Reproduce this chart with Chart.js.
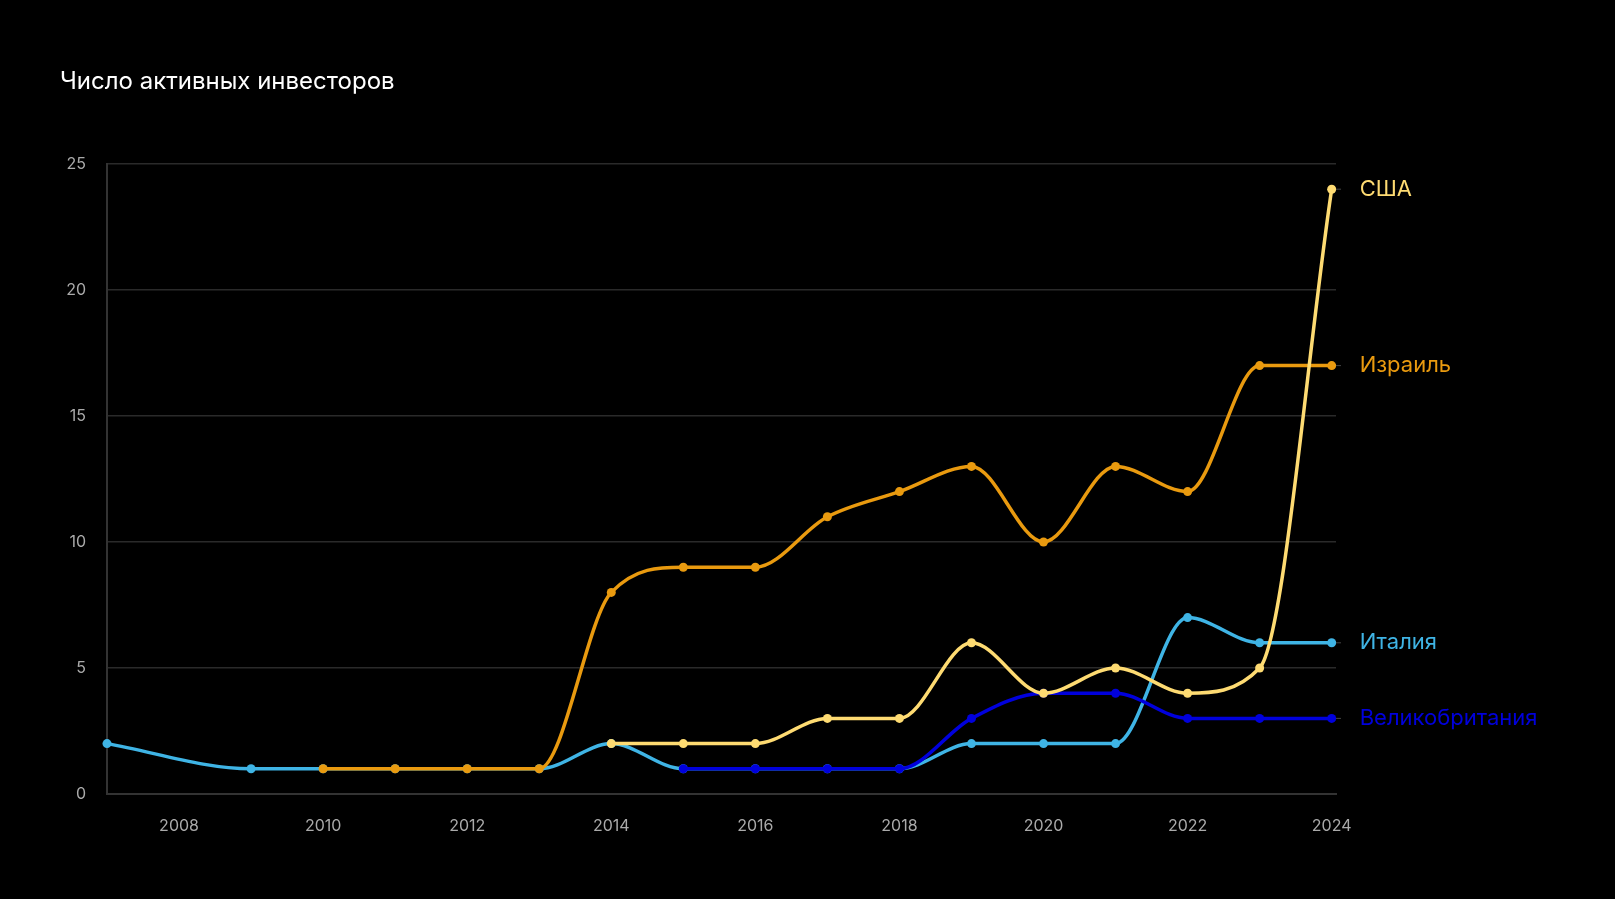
<!DOCTYPE html>
<html>
<head>
<meta charset="utf-8">
<script src="https://cdn.jsdelivr.net/npm/chart.js@4.4.1/dist/chart.umd.min.js"></script>
<style>
	html, body { margin: 0; padding: 0; background: #000; }
	#wrap { width: 1615px; height: 899px; position: relative; }
</style>
</head>
<body>
<div id="wrap"><canvas id="js-investors-chart"></canvas></div>
<script>
const title = 'Число активных инвесторов';
const xTicks = [2008, 2010, 2012, 2014, 2016, 2018, 2020, 2022, 2024];

const usaYears = [2014, 2015, 2016, 2017, 2018, 2019, 2020, 2021, 2022, 2023, 2024];
const usaValues = [2, 2, 2, 3, 3, 6, 4, 5, 4, 5, 24];

const israelYears = [2010, 2011, 2012, 2013, 2014, 2015, 2016, 2017, 2018, 2019, 2020, 2021, 2022, 2023, 2024];
const israelValues = [1, 1, 1, 1, 8, 9, 9, 11, 12, 13, 10, 13, 12, 17, 17];

const ukYears = [2015, 2016, 2017, 2018, 2019, 2020, 2021, 2022, 2023, 2024];
const ukValues = [1, 1, 1, 1, 3, 4, 4, 3, 3, 3];

const italyYears = [2007, 2009, 2010, 2011, 2012, 2013, 2014, 2015, 2016, 2017, 2018, 2019, 2020, 2021, 2022, 2023, 2024];
const italyValues = [2, 1, 1, 1, 1, 1, 2, 1, 1, 1, 1, 2, 2, 2, 7, 6, 6];

const FONT = 'Inter, "Noto Sans", sans-serif';

function toPoints(years, values) {
	return years.map((y, i) => ({ x: y, y: values[i] }));
}

function makeSet(label, years, values, color) {
	return {
		label: label,
		data: toPoints(years, values),
		borderColor: color,
		backgroundColor: color,
		borderWidth: 3.5,
		pointRadius: 4.5,
		pointHoverRadius: 4.5,
		pointBorderWidth: 0,
		cubicInterpolationMode: 'monotone',
		fill: false,
		clip: false,
	};
}

// title + labels at the end of each line
const labelsPlugin = {
	id: 'endLabels',
	afterDatasetsDraw(chart) {
		const ctx = chart.ctx;
		const area = chart.chartArea;
		ctx.save();
		ctx.fillStyle = '#ffffff';
		ctx.font = '24px ' + FONT;
		ctx.textAlign = 'left';
		ctx.textBaseline = 'alphabetic';
		ctx.fillText(title, 60, 89);

		ctx.font = '22px ' + FONT;
		ctx.textBaseline = 'middle';
		chart.data.datasets.forEach((ds, i) => {
			const meta = chart.getDatasetMeta(i);
			const last = meta.data[meta.data.length - 1];
			ctx.strokeStyle = '#444';
			ctx.lineWidth = 1;
			ctx.beginPath();
			ctx.moveTo(area.right, last.y);
			ctx.lineTo(area.right + 5, last.y);
			ctx.stroke();
			ctx.fillStyle = ds.borderColor;
			ctx.fillText(ds.label, last.x + 28, last.y);
		});
		ctx.restore();
	},
};

const ctx = document.getElementById('js-investors-chart');
const myChart = new Chart(ctx, {
	type: 'line',
	data: {
		datasets: [
			makeSet('США', usaYears, usaValues, '#fedb72'),
			makeSet('Израиль', israelYears, israelValues, '#e99a0f'),
			makeSet('Великобритания', ukYears, ukValues, '#0000dc'),
			makeSet('Италия', italyYears, italyValues, '#3fb4e5'),
		],
	},
	options: {
		responsive: true,
		maintainAspectRatio: false,
		animation: false,
		layout: {
			padding: { top: 164, right: 279, bottom: 0, left: 0 },
		},
		plugins: {
			legend: { display: false },
			tooltip: { enabled: false },
		},
		scales: {
			x: {
				type: 'linear',
				min: 2007,
				max: 2024.06,
				afterBuildTicks: (s) => { s.ticks = xTicks.map((v) => ({ value: v })); },
				afterFit: (s) => { s.height = 105; },
				grid: { display: false, drawTicks: false },
				border: { color: '#333', width: 2 },
				ticks: {
					color: '#aaaaaa',
					font: { family: FONT, size: 16 },
					padding: 23,
					callback: (v) => String(v),
				},
			},
			y: {
				min: 0,
				max: 25,
				afterFit: (s) => { s.width = 107; },
				grid: { color: '#2a2a2a', lineWidth: 1.5, drawTicks: false },
				border: { color: '#333', width: 2 },
				ticks: {
					stepSize: 5,
					color: '#aaaaaa',
					font: { family: FONT, size: 16 },
					padding: 21,
				},
			},
		},
	},
	plugins: [labelsPlugin],
});
</script>
</body>
</html>
